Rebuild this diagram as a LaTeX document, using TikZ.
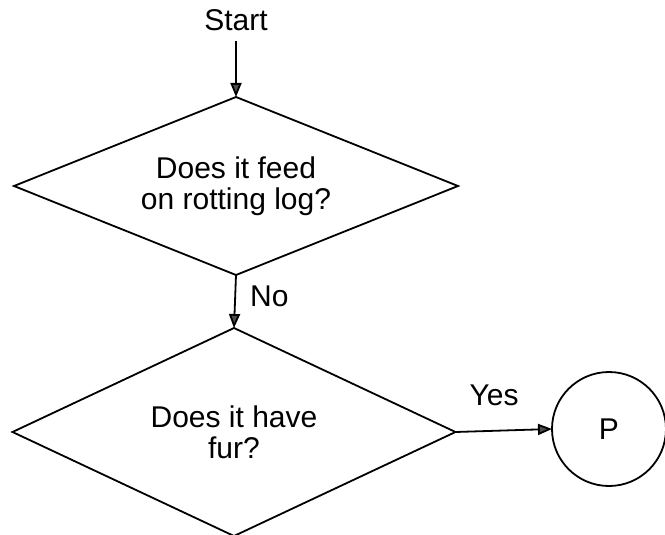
\documentclass[tikz,border=0pt]{standalone}
\usepackage{fontspec}
\setmainfont{Liberation Sans}
\usetikzlibrary{shapes.geometric,arrows.meta}
\begin{document}
\begin{tikzpicture}[x=1pt,y=-1pt,
  line width=1.8pt,
  txt/.style={font=\fontsize{30}{31}\selectfont, inner sep=0pt},
  decision/.style={draw, diamond, inner sep=0pt, outer sep=0pt, align=center,
    font=\fontsize{30}{31}\selectfont},
  terminal/.style={draw, circle, inner sep=0pt, outer sep=0pt,
    minimum size=114pt, font=\fontsize{30}{31}\selectfont},
  flow/.style={-{Triangle[length=14pt,width=11pt,fill=gray!60!black]}},
]
\useasboundingbox (0,0) rectangle (665,535);

\node[txt, anchor=south] (start) at (236,32) {Start};
\coordinate (startout) at (236,41);

\node[decision, shape aspect=2.5, minimum width=444pt, minimum height=178pt]
  (q1) at (236,186) {Does it feed\\on rotting log?};
\node[decision, shape aspect=2.13, minimum width=443pt, minimum height=208pt]
  (q2) at (234,432) {Does it have\\fur?};
\node[terminal] (p) at (609,429) {P};

\draw[flow] (startout) -- (q1.north);
\draw[flow] (q1.south) -- node[txt, right=14pt, pos=0.4] {No} (q2.north);
\draw[flow] (q2.east) -- node[txt, above=24pt, pos=0.4] {Yes} (p.west);
\end{tikzpicture}
\end{document}
